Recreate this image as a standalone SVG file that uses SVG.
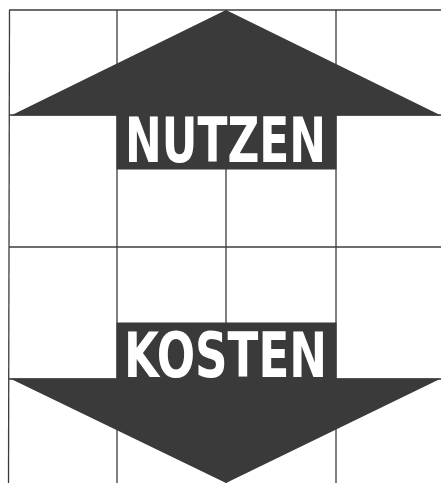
<svg xmlns="http://www.w3.org/2000/svg" width="441" height="483" viewBox="0 0 441 483">
<style>
.grid{stroke:#3c3c3c;stroke-width:1.3;fill:none}
.arrow{fill:#3b3a3a}
.lbl{font-family:"Liberation Sans Narrow","DejaVu Sans Condensed","Liberation Sans",sans-serif;font-weight:bold;fill:#ffffff;font-size:62px}
</style>
<rect x="0" y="0" width="441" height="483" fill="#ffffff"/>
<g id="grid" class="grid">
<line x1="9" y1="10" x2="441" y2="10"/>
<line x1="9" y1="115" x2="441" y2="115"/>
<line x1="9" y1="247" x2="441" y2="247"/>
<line x1="9" y1="379" x2="441" y2="379"/>
<line x1="9.5" y1="10" x2="8.5" y2="483"/>
<line x1="117" y1="10" x2="117" y2="483"/>
<line x1="226" y1="10" x2="226" y2="483"/>
<line x1="336" y1="10" x2="336" y2="483"/>
</g>
<g id="nutzen">
<polygon class="arrow" points="11,115.5 226,10 441,115.5 336.5,115.5 336.5,169.5 116.5,169.5 116.5,115.5"/>
<text class="lbl" x="125" y="162" textLength="201" lengthAdjust="spacingAndGlyphs">NUTZEN</text>
</g>
<g id="kosten">
<polygon class="arrow" points="116.5,322.5 336.5,322.5 336.5,378.5 441,378.5 226,483 10,378.5 116.5,378.5"/>
<text class="lbl" x="124" y="377" textLength="203" lengthAdjust="spacingAndGlyphs">KOSTEN</text>
</g>
</svg>
